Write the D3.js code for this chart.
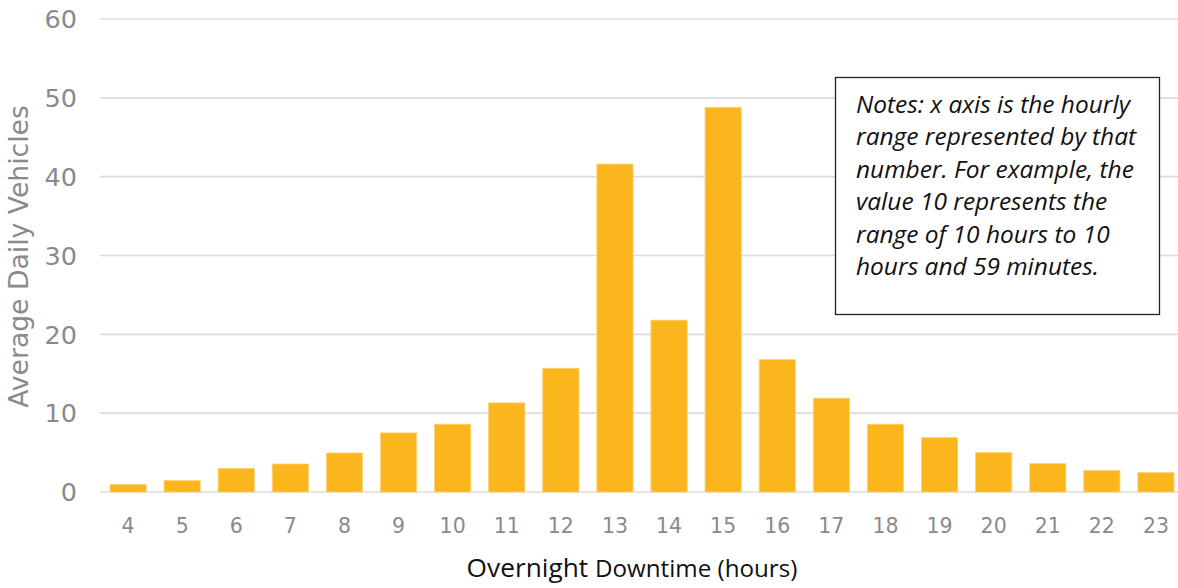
<!DOCTYPE html>
<html><head><meta charset="utf-8">
<script src="https://cdn.jsdelivr.net/npm/d3@7"></script>
<style>body{margin:0;background:#fff}svg{display:block}</style>
</head><body>
<svg id="c" width="1178" height="588"></svg>
<script>
const categories = ["4","5","6","7","8","9","10","11","12","13","14","15","16","17","18","19","20","21","22","23"];
const values = [0.95,1.45,3.0,3.55,4.95,7.5,8.6,11.3,15.7,41.6,21.8,48.8,16.8,11.9,8.6,6.9,5.0,3.6,2.75,2.45];
const yTicks = [0,10,20,30,40,50,60];
const noteLines = ["Notes: x axis is the hourly","range represented by that","number. For example, the","value 10 represents the","range of 10 hours to 10","hours and 59 minutes."];

const svg = d3.select("#c");
const x = d3.scaleBand().domain(categories).range([101,1183]).paddingInner(0.33).paddingOuter(0.165);
const y = d3.scaleLinear().domain([0,60]).range([492,19]);
const tickFont = "'DejaVu Sans', Verdana, sans-serif";
const grey = "#8a8a8a";

// gridlines
svg.append("g").selectAll("line").data(yTicks).join("line")
  .attr("x1",100).attr("x2",1178).attr("y1",d=>y(d)).attr("y2",d=>y(d))
  .attr("stroke","#dcdcdc").attr("stroke-width",1.6);

// y tick labels
svg.append("g").selectAll("text").data(yTicks).join("text")
  .attr("x",77).attr("y",d=>y(d)).attr("dy","0.36em").attr("text-anchor","end")
  .attr("font-family",tickFont).attr("font-size",25.5).attr("fill",grey)
  .text(d=>d);

// bars
svg.append("g").selectAll("rect").data(values).join("rect")
  .attr("x",(d,i)=>x(categories[i])).attr("width",x.bandwidth())
  .attr("y",d=>y(d)).attr("height",d=>y(0)-y(d))
  .attr("fill","#fcb61d").attr("stroke","#fdd27a").attr("stroke-width",0.8);

// x tick labels
svg.append("g").selectAll("text").data(categories).join("text")
  .attr("x",d=>x(d)+x.bandwidth()/2).attr("y",533).attr("text-anchor","middle")
  .attr("font-family",tickFont).attr("font-size",20.5).attr("fill",grey)
  .text(d=>d);

// y axis title
const yt = svg.append("text").attr("transform","translate(28,256.5) rotate(-90)").attr("text-anchor","middle")
  .attr("font-family",tickFont).attr("fill",grey).attr("font-size",24)
  .text("Average Daily Vehicles");
yt.attr("font-size", 24 * 303 / yt.node().getComputedTextLength());

// x axis title
const xt = svg.append("text").attr("x",632).attr("y",577).attr("text-anchor","middle")
  .attr("font-family","'Open Sans', sans-serif").attr("fill","#111");
const t1 = xt.append("tspan").text("Overnight ");
const t2 = xt.append("tspan").text("Downtime (hours)");
t1.attr("font-size",25); t2.attr("font-size",23);
const k = 331 / xt.node().getComputedTextLength();
t1.attr("font-size",25*k); t2.attr("font-size",23*k);

// note box
svg.append("rect").attr("x",835.5).attr("y",77.5).attr("width",324).attr("height",237)
  .attr("fill","#fff").attr("stroke","#222").attr("stroke-width",1.3);
const notes = svg.append("g").attr("font-family","'Open Sans', sans-serif").attr("font-style","italic").attr("fill","#111");
const nl = notes.selectAll("text").data(noteLines).join("text")
  .attr("x",856).attr("y",(d,i)=>113+i*32.4).text(d=>d);
const first = nl.filter((d,i)=>i===0);
first.attr("font-size",20);
const fs = 20 * 274 / first.node().getComputedTextLength();
nl.attr("font-size", fs);
</script>
</body></html>
